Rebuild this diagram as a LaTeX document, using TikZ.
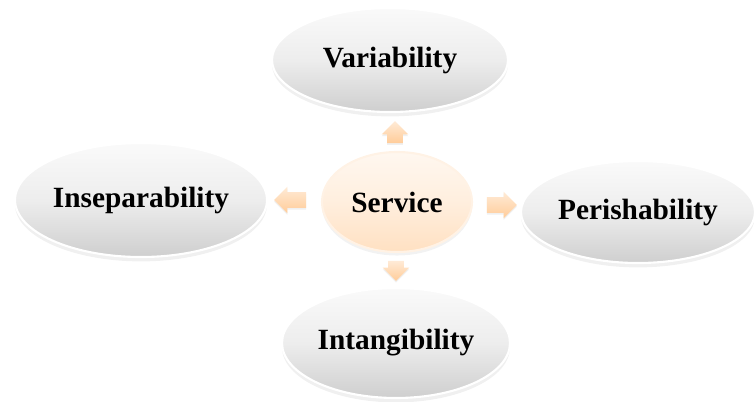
\documentclass[tikz,border=0pt]{standalone}
\usepackage{fontspec}
\setmainfont{Liberation Serif}
\usetikzlibrary{shapes.geometric}
\usetikzlibrary{shapes.arrows}
\usetikzlibrary{shadows}
\usetikzlibrary{positioning}

\tikzset{
 trait/.style={ellipse, draw=white, line width=1.2pt, top color=gray!4, bottom color=gray!38,
   middle color=gray!14, font=\bfseries\fontsize{16.7}{19}\selectfont, inner sep=0pt,
   drop shadow={opacity=.12, shadow xshift=0pt, shadow yshift=-2.5pt}},
 core/.style={ellipse, draw=orange!10, line width=1.2pt, top color=orange!6, bottom color=orange!24,
   middle color=orange!13, font=\bfseries\fontsize{16.7}{19}\selectfont, inner sep=0pt,
   minimum width=3cm, minimum height=2cm,
   drop shadow={opacity=.1, shadow xshift=0pt, shadow yshift=-2pt}},
 blockarrow/.style={single arrow, draw=none, top color=orange!16, bottom color=orange!40,
   single arrow head extend=.11cm, inner xsep=0pt, inner ysep=.15cm, minimum height=.6cm,
   drop shadow={opacity=.12, shadow xshift=0pt, shadow yshift=-1pt}}
}

\begin{document}
\begin{tikzpicture}
\useasboundingbox (0,0) rectangle (15.08,-8.02);
% centre
\node[core] (service) at (7.94,-4.04) {Service};
% the four traits
\node[trait, minimum width=4.72cm, minimum height=2.08cm] (var) at (7.8,-1.2) {Variability};
\node[trait, minimum width=5.04cm, minimum height=2.28cm] (insep) at (2.82,-4.0) {Inseparability};
\node[trait, minimum width=4.68cm, minimum height=2.04cm] (perish) at (12.76,-4.24) {Perishability};
\node[trait, minimum width=4.56cm, minimum height=2.2cm] (intang) at (7.92,-6.86) {Intangibility};
% block arrows
\node[blockarrow, rotate=90, minimum height=.44cm] (toVar) at (7.9,-2.72) {};
\node[blockarrow, rotate=180, minimum height=.64cm] (toInsep) at (5.88,-4.0) {};
\node[blockarrow] (toPerish) at (9.96,-4.1) {};
\node[blockarrow, rotate=-90, minimum height=.4cm] (toIntang) at (7.92,-5.34) {};
\end{tikzpicture}
\end{document}
